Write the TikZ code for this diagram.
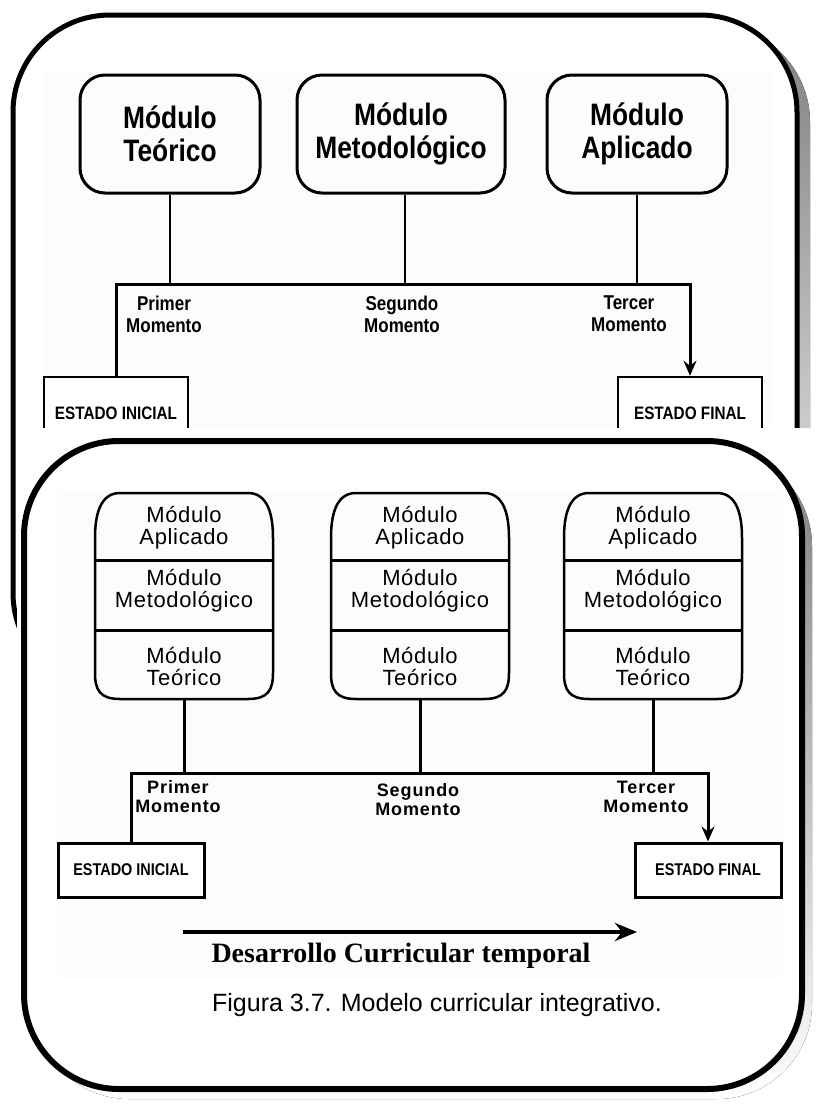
\documentclass[tikz,border=0pt]{standalone}
\usepackage{fontspec}
\setmainfont{Liberation Sans}
\newfontfamily\narrowfont[FakeStretch=0.85]{Liberation Sans}
\newfontfamily\spacedfont[LetterSpace=5]{Liberation Sans}
\newfontfamily\lightspaced[LetterSpace=3]{Liberation Sans}
\newfontfamily\timesfont{Liberation Serif}
\usepackage{xcolor}
\usepackage{tikz}
\usetikzlibrary{arrows.meta, positioning}
\definecolor{paper}{RGB}{252,252,250}
\definecolor{shade}{RGB}{138,138,138}

\begin{document}
\begin{tikzpicture}[x=1pt,y=-1pt,
    modbox/.style={draw,line width=3pt,rounded corners=25pt,minimum width=180pt,minimum height=118pt,
        inner sep=0pt,align=center,font=\narrowfont\bfseries\fontsize{31}{33}\selectfont},
    estbox/.style={draw,line width=2.5pt,fill=white,minimum width=144pt,minimum height=72pt,
        inner sep=0pt,font=\narrowfont\bfseries\fontsize{18}{20}\selectfont},
    estboxb/.style={draw,line width=3pt,fill=white,minimum width=146pt,minimum height=54pt,
        inner sep=0pt,font=\narrowfont\bfseries\fontsize{17}{20}\selectfont},
    momlabel/.style={align=center,inner sep=0pt,font=\narrowfont\bfseries\fontsize{20}{22}\selectfont},
    momlabelb/.style={align=center,inner sep=0pt,font=\spacedfont\bfseries\fontsize{18}{19}\selectfont},
    stacktxt/.style={align=center,inner sep=0pt,font=\lightspaced\fontsize{22}{22}\selectfont},
    conn/.style={line width=2pt},
    bus/.style={line width=3pt},
    tip/.style={-{Stealth[length=15pt,width=13pt,inset=5pt]}}]

    \useasboundingbox (0,0) rectangle (815,1104);

    % first panel
    \fill[shade,rounded corners=97pt] (25,25) rectangle (810,700);
    \draw[line width=5pt,fill=white,rounded corners=97pt] (13,15) rectangle (797,690);
    \fill[paper] (45,72) rectangle (772,428);

    \node[modbox] (teo) at (170,134) {Módulo\\Teórico};
    \node[modbox,minimum width=208pt] (met) at (401,134) {Módulo\\Metodológico};
    \node[modbox] (apl) at (637,134) {Módulo\\Aplicado};

    \coordinate (bus1) at (405,284);
    \draw[conn] (teo.south) -- (teo.south |- bus1);
    \draw[conn] (met.south -| bus1) -- (bus1);
    \draw[conn] (apl.south) -- (apl.south |- bus1);

    \node[estbox] (ini1) at (116,413) {ESTADO INICIAL};
    \node[estbox] (fin1) at (690,413) {ESTADO FINAL};
    \draw[bus,tip] (ini1.north) |- (bus1) -| (fin1.north);

    \node[momlabel] (pri1) at (164,314) {Primer\\Momento};
    \node[momlabel] (seg1) at (402,314) {Segundo\\Momento};
    \node[momlabel] (ter1) at (629,314) {Tercer\\Momento};

    \fill[white] (17,428) rectangle (815,1104);

    % second panel
    \fill[shade,rounded corners=95pt] (34,451) rectangle (812,1099);
    \draw[line width=6pt,fill=white,rounded corners=95pt] (24,441) rectangle (802,1089);
    \fill[paper] (57,490) rectangle (783,978);

    \foreach \c/\n in {184/one,420/two,653/three} {
        \draw[line width=2.5pt] (\c-64,493) -- (\c+64,493)
            .. controls (\c+84,493) and (\c+89,515) .. (\c+89,538) -- (\c+89,673)
            .. controls (\c+89,690) and (\c+84,699) .. (\c+64,699) -- (\c-64,699)
            .. controls (\c-84,699) and (\c-89,690) .. (\c-89,673) -- (\c-89,538)
            .. controls (\c-89,515) and (\c-84,493) .. cycle;
        \draw[bus] (\c-89,560) -- (\c+89,560);
        \draw[bus] (\c-89,630) -- (\c+89,630);
        \node[stacktxt] (apl\n) at (\c,528) {Módulo\\Aplicado};
        \node[stacktxt] (met\n) at (\c,591) {Módulo\\Metodológico};
        \node[stacktxt] (teo\n) at (\c,666) {Módulo\\Teórico};
        \coordinate (\n) at (\c,699);
    }

    \coordinate (bus2) at (419,773);
    \draw[bus] (one) -- (one |- bus2);
    \draw[bus] (two) -- (two |- bus2);
    \draw[bus] (three) -- (three |- bus2);

    \node[estboxb] (ini2) at (131,870) {ESTADO INICIAL};
    \node[estboxb] (fin2) at (708,870) {ESTADO FINAL};
    \draw[bus,tip] (ini2.north) |- (bus2) -| (fin2.north);

    \node[momlabelb] (pri2) at (178,797) {Primer\\Momento};
    \node[momlabelb] (seg2) at (418,800) {Segundo\\Momento};
    \node[momlabelb] (ter2) at (646,797) {Tercer\\Momento};

    \coordinate (t0) at (183,932);
    \coordinate (t1) at (637,932);
    \draw[line width=4pt,-{Stealth[length=22pt,width=18pt,inset=7pt]}] (t0) -- (t1);
    \node[font=\timesfont\bfseries\fontsize{28}{30}\selectfont] (dev) at (401,956) {Desarrollo Curricular temporal};
    \node[font=\fontsize{25}{28}\selectfont] (cap) at (437,1005) {Figura 3.7. Modelo curricular integrativo.};
\end{tikzpicture}
\end{document}
